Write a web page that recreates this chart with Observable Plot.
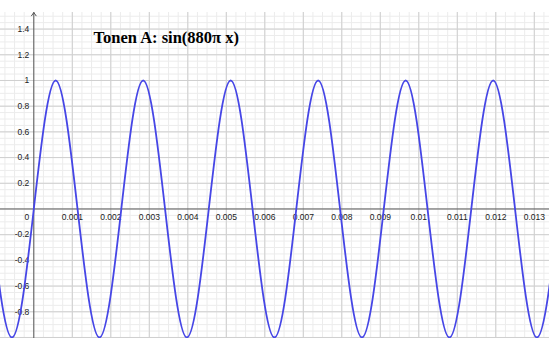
<!DOCTYPE html>
<html>
<head>
<meta charset="utf-8">
<script src="https://cdn.jsdelivr.net/npm/d3@7"></script>
<script src="https://cdn.jsdelivr.net/npm/@observablehq/plot@0.6"></script>
<style>
  html, body { margin: 0; padding: 0; background: #fff; }
  #chart svg { display: block; }
</style>
</head>
<body>
<div id="chart"></div>
<script>
const curveX = [-0.001136, -0.000568, 0, 0.000568, 0.001136, 0.001705, 0.002273, 0.002841,
  0.003409, 0.003977, 0.004545, 0.005114, 0.005682, 0.00625, 0.006818, 0.007386,
  0.007955, 0.008523, 0.009091, 0.009659, 0.010227, 0.010795, 0.011364, 0.011932,
  0.0125, 0.013068, 0.013636];
const curveY = [0, -1, 0, 1, 0, -1, 0, 1,
  0, -1, 0, 1, 0, -1, 0, 1,
  0, -1, 0, 1, 0, -1, 0, 1,
  0, -1, 0];

// Tick labels
const xTicks = [0.001, 0.002, 0.003, 0.004, 0.005, 0.006, 0.007, 0.008, 0.009, 0.01, 0.011, 0.012, 0.013];
const xTickLabels = ["0.001", "0.002", "0.003", "0.004", "0.005", "0.006", "0.007", "0.008", "0.009", "0.01", "0.011", "0.012", "0.013"];
const yTicks = [1.4, 1.2, 1, 0.8, 0.6, 0.4, 0.2, -0.2, -0.4, -0.6, -0.8];
const yTickLabels = ["1.4", "1.2", "1", "0.8", "0.6", "0.4", "0.2", "-0.2", "-0.4", "-0.6", "-0.8"];
const titleText = "Tonen A: sin(880\u03c0 x)";

const curve = curveX.map((x, i) => ({x, y: curveY[i]}));
const xLab = xTicks.map((x, i) => ({x, label: xTickLabels[i]}));
const yLab = yTicks.map((y, i) => ({y, label: yTickLabels[i]}));

const xMin = -0.000865, xMax = 0.013395;
const yMin = -1.008, yMax = 1.529;

const xMinor = d3.range(-0.00075, 0.0134, 0.00025);
const xMajor = d3.range(-0.0, 0.0134, 0.001).filter(v => Math.abs(v) > 1e-9);
const yMinor = d3.range(-1.0, 1.55, 0.05);
const yMajor = d3.range(-1.0, 1.55, 0.2).filter(v => Math.abs(v) > 1e-9);

const font = "Liberation Sans, Arial, sans-serif";

const chart = Plot.plot({
  width: 549,
  height: 338,
  marginTop: 12,
  marginBottom: 0,
  marginLeft: 0,
  marginRight: 0,
  style: {background: "#fff", fontFamily: font},
  x: {domain: [xMin, xMax], axis: null},
  y: {domain: [yMin, yMax], axis: null},
  marks: [
    Plot.ruleX(xMinor, {stroke: "#ececec", strokeWidth: 1}),
    Plot.ruleY(yMinor, {stroke: "#ececec", strokeWidth: 1}),
    Plot.ruleX(xMajor, {stroke: "#cfcfcf", strokeWidth: 1}),
    Plot.ruleY(yMajor, {stroke: "#cfcfcf", strokeWidth: 1}),
    Plot.ruleY([0], {stroke: "#555", strokeWidth: 1}),
    Plot.arrow([{x1: 0, y1: yMin, x2: 0, y2: yMax}], {x1: "x1", y1: "y1", x2: "x2", y2: "y2", stroke: "#555", strokeWidth: 1, headLength: 6, headAngle: 70}),
    Plot.text(xLab, {x: "x", y: 0, text: "label", dy: 8, textAnchor: "middle", fontSize: 8.5, fill: "#222", fontFamily: font}),
    Plot.text(yLab, {x: 0, y: "y", text: "label", dx: -4.5, textAnchor: "end", fontSize: 8.5, fill: "#222", fontFamily: font}),
    Plot.text(["0"], {x: 0, y: 0, text: d => d, dx: -4.5, dy: 8, textAnchor: "end", fontSize: 8.5, fill: "#222", fontFamily: font}),
    Plot.line(curve, {x: "x", y: "y", curve: "natural", stroke: "#4646e6", strokeWidth: 1.8, clip: true}),
    Plot.text([titleText], {frameAnchor: "top-left", dx: 93, dy: 30, text: d => d, textAnchor: "start", lineAnchor: "bottom", fontSize: 16.5, fontWeight: "bold", fill: "#000", fontFamily: "Liberation Serif, Times New Roman, serif"})
  ]
});
document.getElementById("chart").append(chart);
</script>
</body>
</html>
